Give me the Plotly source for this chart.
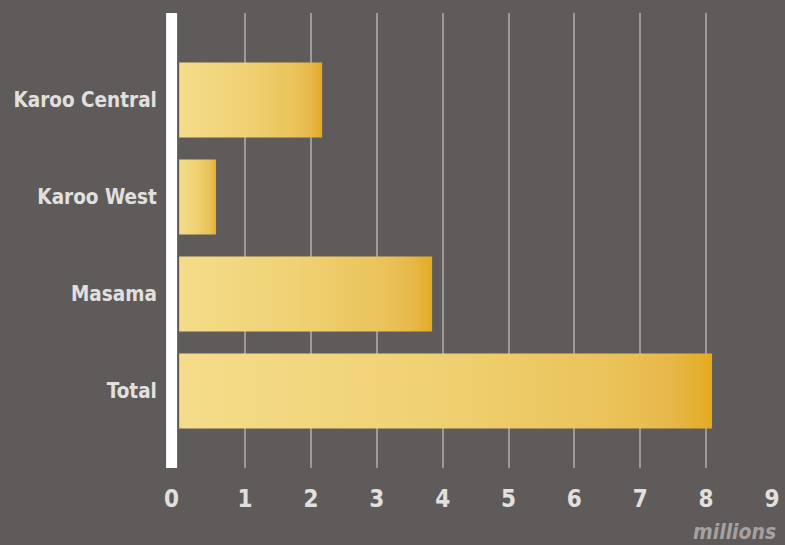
import plotly.graph_objects as go

categories = ["Karoo Central", "Karoo West", "Masama", "Total"]
values = [2.17, 0.56, 3.84, 8.09]
tick_labels = ["0", "1", "2", "3", "4", "5", "6", "7", "8", "9"]

BG = "#5f5b5a"
FONT = "Liberation Sans Narrow, Arial Narrow, DejaVu Sans Condensed, sans-serif"
TEXT = "#e2e0df"
GRAD = [[0, "#f5dc8a"], [0.45, "#f0d274"], [0.8, "#eac35a"], [0.92, "#e7b84a"], [1, "#e4ab22"]]
HALF = 0.387
AXIS_X = -0.115

fig = go.Figure()
for i, (c, v) in enumerate(zip(categories, values)):
    fig.add_trace(go.Scatter(
        x=[0, v, v, 0, 0],
        y=[i - HALF, i - HALF, i + HALF, i + HALF, i - HALF],
        fill="toself", mode="none",
        fillgradient=dict(type="horizontal", colorscale=GRAD),
        hoverinfo="skip", showlegend=False,
    ))

tickvals = [AXIS_X] + list(range(1, len(tick_labels)))
fig.add_shape(type="line", xref="x", yref="paper", x0=AXIS_X, x1=AXIS_X, y0=0, y1=1,
              line=dict(color="white", width=11), layer="above")

fig.update_layout(
    width=785, height=545,
    margin=dict(l=166, r=13, t=13, b=77),
    paper_bgcolor=BG, plot_bgcolor=BG,
    font=dict(family=FONT, color=TEXT, size=23, weight="bold"),
    xaxis=dict(range=[-0.2, 9.0], tickvals=tickvals, ticktext=tick_labels,
               showgrid=True, gridcolor="#9d9998", gridwidth=2, zeroline=False,
               ticks="outside", ticklen=9, tickcolor="rgba(0,0,0,0)",
               tickfont=dict(family=FONT, color=TEXT, size=24, weight="bold"),
               showline=False, fixedrange=True, automargin=False),
    yaxis=dict(range=[3.794, -0.897], tickvals=list(range(len(categories))), ticktext=categories,
               showgrid=False, zeroline=False, ticks="outside", ticklen=4,
               tickcolor="rgba(0,0,0,0)",
               tickfont=dict(family=FONT, color=TEXT, size=20.5, weight="bold"),
               showline=False, fixedrange=True, automargin=False),
    annotations=[dict(text="millions", xref="paper", yref="paper", x=1, y=0,
                      xanchor="right", yanchor="middle", xshift=6, yshift=-64,
                      showarrow=False,
                      font=dict(family=FONT, color="#a5a1a0", size=21, weight="bold", style="italic"))],
)

fig.write_html("out.html", config={"displayModeBar": False},
               post_script="document.body.style.margin='0';")
